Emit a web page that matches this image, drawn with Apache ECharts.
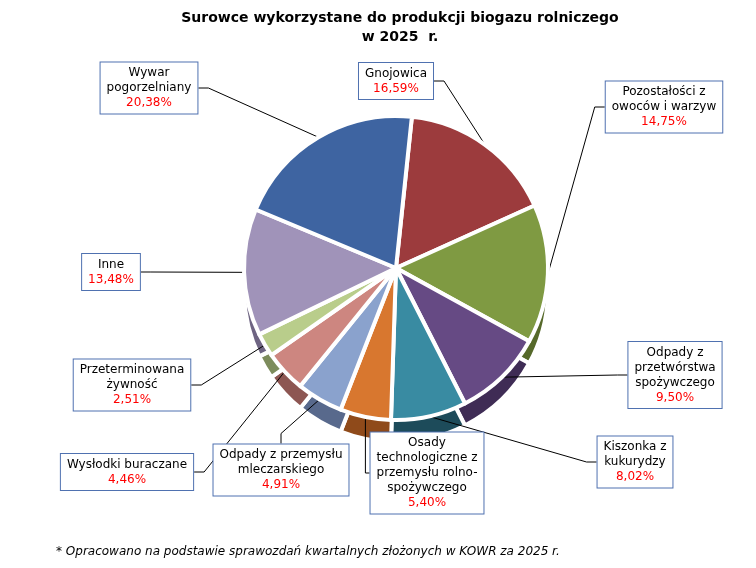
<!DOCTYPE html>
<html>
<head>
<meta charset="utf-8">
<script src="https://cdn.jsdelivr.net/npm/echarts@6/dist/echarts.min.js"></script>
<style>html,body{margin:0;padding:0;background:#fff}#main{width:756px;height:568px}</style>
</head>
<body>
<div id="main"></div>
<script>
var chart = echarts.init(document.getElementById('main'));

var names = ['Gnojowica', 'Pozostałości z\nowoców i warzyw', 'Odpady z\nprzetwórstwa\nspożywczego',
  'Kiszonka z\nkukurydzy', 'Osady\ntechnologiczne z\nprzemysłu rolno-\nspożywczego',
  'Odpady z przemysłu\nmleczarskiego', 'Wysłodki buraczane', 'Przeterminowana\nżywność',
  'Inne', 'Wywar\npogorzelniany'];
var values = [16.59, 14.75, 9.50, 8.02, 5.40, 4.91, 4.46, 2.51, 13.48, 20.38];
var colors = ['#9c3b3d', '#7f9a42', '#664a84', '#398ba2', '#d8772f', '#8aa2cd', '#cd8680', '#b9cd8b', '#a093b9', '#3e64a1'];
var depthColors = ['#6b2325', '#56692a', '#3f2c55', '#1d4b5a', '#8f4a1a', '#58698c', '#8d5652', '#7d8c5c', '#6e6482', '#26406a'];
// label box centres (layout only)
var labelPos = [[397, 82], [665, 108], [676, 376], [636, 463], [428, 474], [282, 471], [128, 473], [133, 386], [112, 273], [150, 89]];

function fmt(v) { return v.toFixed(2).replace('.', ',') + '%'; }

var pieData = names.map(function (n, i) {
  return { name: n, value: values[i], itemStyle: { color: colors[i] } };
});
var depthData = names.map(function (n, i) {
  return { name: n, value: values[i], itemStyle: { color: depthColors[i] } };
});

chart.setOption({
  backgroundColor: '#fff',
  title: {
    text: 'Surowce wykorzystane do produkcji biogazu rolniczego\nw 2025  r.',
    left: 395, top: 4, textAlign: 'center',
    textStyle: { fontFamily: 'DejaVu Sans', fontSize: 14, fontWeight: 'bold', color: '#000', lineHeight: 19 }
  },
  graphic: [{
    type: 'text', left: 56, top: 546,
    style: { text: '* Opracowano na podstawie sprawozdań kwartalnych złożonych w KOWR za 2025 r.',
      font: 'italic 12px DejaVu Sans', fill: '#000' }
  }],
  series: [
    {
      type: 'pie', radius: [0, 152], center: [396, 290], startAngle: 84,
      silent: true, label: { show: false }, labelLine: { show: false },
      itemStyle: { borderColor: '#fff', borderWidth: 4 },
      data: depthData, z: 1
    },
    {
      type: 'pie', radius: [0, 152], center: [396, 268], startAngle: 84,
      itemStyle: { borderColor: '#fff', borderWidth: 4 },
      data: pieData, z: 2,
      label: {
        show: true,
        formatter: function (p) { return '{n|' + p.name.split('\n').join('}\n{n|') + '}\n{v|' + fmt(p.value) + '}'; },
        backgroundColor: '#fff', borderColor: '#4f71b0', borderWidth: 1,
        padding: [3, 6],
        rich: {
          n: { fontFamily: 'DejaVu Sans', fontSize: 12, color: '#000', lineHeight: 15, align: 'center' },
          v: { fontFamily: 'DejaVu Sans', fontSize: 12, color: '#ff0000', lineHeight: 15, align: 'center' }
        }
      },
      labelLine: { show: true, length: 20, length2: 10, lineStyle: { color: '#000', width: 1 } },
      labelLayout: function (p) {
        var c = labelPos[p.dataIndex];
        return { x: c[0] - p.labelRect.width / 2, y: c[1] - p.labelRect.height / 2, align: 'left', verticalAlign: 'top' };
      }
    }
  ]
});
</script>
</body>
</html>
